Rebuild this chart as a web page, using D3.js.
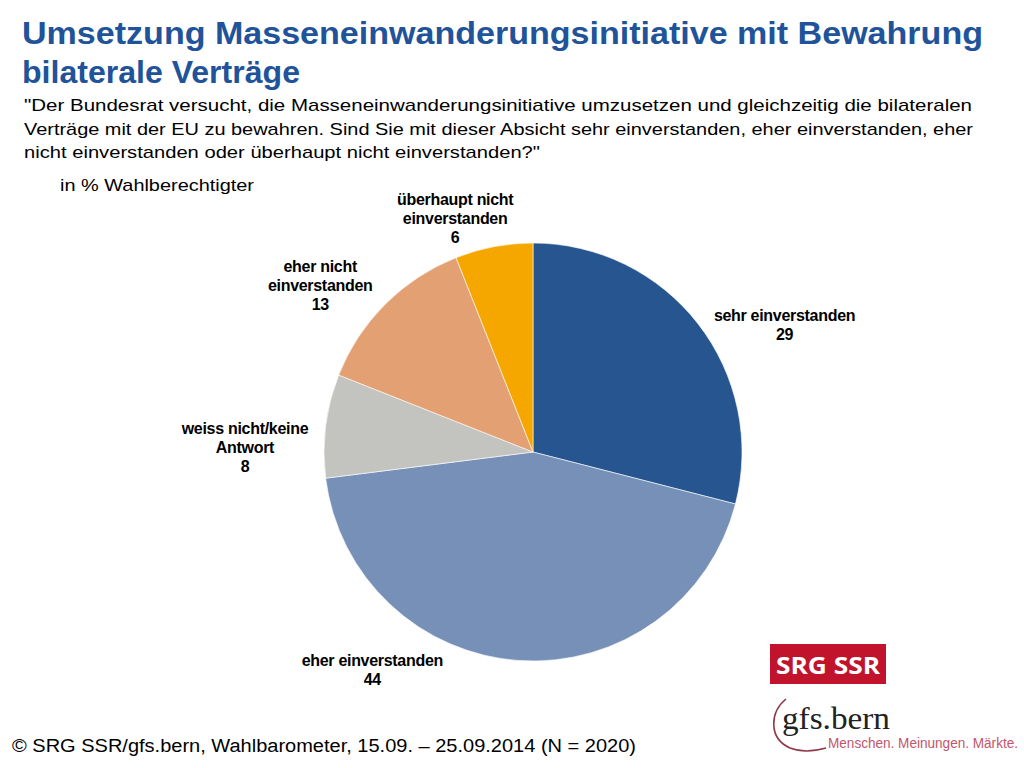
<!DOCTYPE html>
<html>
<head>
<meta charset="utf-8">
<script src="https://cdn.jsdelivr.net/npm/d3@7"></script>
<style>
  html, body { margin: 0; padding: 0; background: #fff; }
  svg { display: block; font-family: "Liberation Sans", Arial, sans-serif; }
</style>
</head>
<body>
<svg id="chart" width="1024" height="768"></svg>
<script>
// ---- data ----
const categories = ["sehr einverstanden", "eher einverstanden", "weiss nicht/keine Antwort", "eher nicht einverstanden", "überhaupt nicht einverstanden"];
const values = [29, 44, 8, 13, 6];
const labelLines = [
  ["sehr einverstanden"],
  ["eher einverstanden"],
  ["weiss nicht/keine", "Antwort"],
  ["eher nicht", "einverstanden"],
  ["überhaupt nicht", "einverstanden"]
];
const colors = ["#26558F", "#7690B7", "#C3C3BF", "#E3A073", "#F5A700"];
const titleLines = ["Umsetzung Masseneinwanderungsinitiative mit Bewahrung", "bilaterale Verträge"];
const questionLines = [
  "\"Der Bundesrat versucht, die Masseneinwanderungsinitiative umzusetzen und gleichzeitig die bilateralen",
  "Verträge mit der EU zu bewahren. Sind Sie mit dieser Absicht sehr einverstanden, eher einverstanden, eher",
  "nicht einverstanden oder überhaupt nicht einverstanden?\""
];
const unitLabel = "in % Wahlberechtigter";
const sourceText = "© SRG SSR/gfs.bern, Wahlbarometer, 15.09. – 25.09.2014 (N = 2020)";

// ---- layout ----
const svg = d3.select("#chart");
const cx = 533, cy = 452, r = 209;
const labelOffsets = [[54, 26], [-145, -32], [-40, 27], [-36, 10], [-31, 12]];

// title
const titleWidths = [961, 278];
svg.append("g").selectAll("text").data(titleLines).join("text")
  .attr("x", 22).attr("y", (d, i) => 44 + i * 39)
  .attr("fill", "#21539A")
  .attr("font-size", 31).attr("font-weight", "bold")
  .attr("textLength", (d, i) => titleWidths[i]).attr("lengthAdjust", "spacingAndGlyphs")
  .text(d => d);

// question
const qWidths = [948, 949, 516];
svg.append("g").selectAll("text").data(questionLines).join("text")
  .attr("x", 24).attr("y", (d, i) => 111 + i * 23.5)
  .attr("fill", "#000").attr("font-size", 17)
  .attr("textLength", (d, i) => qWidths[i]).attr("lengthAdjust", "spacingAndGlyphs")
  .text(d => d);

svg.append("text").attr("x", 60).attr("y", 191).attr("font-size", 17)
  .attr("textLength", 194).attr("lengthAdjust", "spacingAndGlyphs")
  .text(unitLabel);

// pie
const pie = d3.pie().sort(null).value(d => d)(values);
const arc = d3.arc().innerRadius(0).outerRadius(r);
const labelArc = d3.arc().innerRadius(250).outerRadius(250);

const g = svg.append("g").attr("transform", `translate(${cx},${cy})`);
g.selectAll("path").data(pie).join("path")
  .attr("d", arc)
  .attr("fill", (d, i) => colors[i])
  .attr("stroke", "#fff").attr("stroke-width", 0.6);

// labels
const lg = g.selectAll("g.lbl").data(pie).join("g").attr("class", "lbl")
  .attr("transform", (d, i) => {
    const c = labelArc.centroid(d);
    return `translate(${c[0] + labelOffsets[i][0]},${c[1] + labelOffsets[i][1]})`;
  });
lg.each(function(d, i) {
  const lines = labelLines[i].concat([String(values[i])]);
  const n = lines.length;
  const lh = 19;
  d3.select(this).selectAll("text").data(lines).join("text")
    .attr("text-anchor", "middle")
    .attr("y", (t, j) => (j - (n - 1) / 2) * lh + 5.5)
    .attr("font-size", 16).attr("font-weight", "bold")
    .attr("letter-spacing", -0.3)
    .attr("fill", "#000")
    .text(t => t);
});

// source
svg.append("text").attr("x", 12).attr("y", 752).attr("font-size", 18)
  .attr("textLength", 624).attr("lengthAdjust", "spacingAndGlyphs")
  .text(sourceText);

// logos
svg.append("rect").attr("x", 770).attr("y", 644).attr("width", 116).attr("height", 40).attr("fill", "#C2132D");
svg.append("text").attr("x", 828).attr("y", 674).attr("text-anchor", "middle")
  .attr("fill", "#fff").attr("font-size", 24).attr("font-weight", "bold")
  .attr("font-family", "'Open Sans', sans-serif")
  .attr("textLength", 104).attr("lengthAdjust", "spacingAndGlyphs")
  .text("SRG SSR");
svg.append("path")
  .attr("d", "M786,699 C770,712 768,738 790,748 C800,752 812,752 826,748")
  .attr("fill", "none").attr("stroke", "#8E3A4A").attr("stroke-width", 1.6);
svg.append("text").attr("x", 782).attr("y", 729)
  .attr("fill", "#222").attr("font-size", 31)
  .attr("font-family", "'Liberation Serif', 'DejaVu Serif', serif")
  .attr("textLength", 108).attr("lengthAdjust", "spacingAndGlyphs")
  .text("gfs.bern");
svg.append("text").attr("x", 828).attr("y", 748)
  .attr("fill", "#C4556A").attr("font-size", 14)
  .attr("textLength", 190).attr("lengthAdjust", "spacingAndGlyphs")
  .text("Menschen. Meinungen. Märkte.");
</script>
</body>
</html>
